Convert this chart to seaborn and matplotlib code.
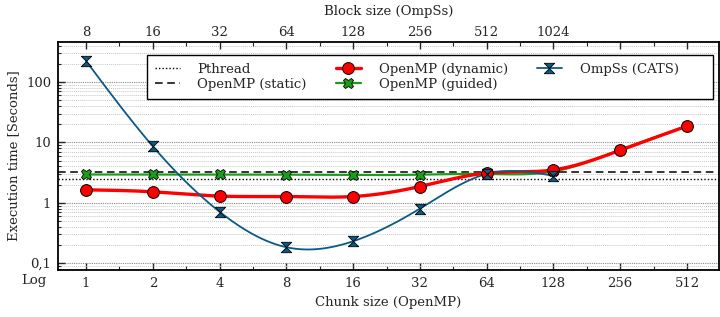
import numpy as np
import matplotlib
matplotlib.use("Agg")
import matplotlib.pyplot as plt
from matplotlib.path import Path
from matplotlib.lines import Line2D
from matplotlib.patches import Rectangle
from matplotlib.ticker import FixedLocator, NullFormatter
import seaborn as sns

# data
chunk_sizes = ["1", "2", "4", "8", "16", "32", "64", "128", "256", "512"]
block_sizes = ["8", "16", "32", "64", "128", "256", "512", "1024"]
pthread_time = 2.5
static_time = 3.22
dynamic_time = [1.64, 1.52, 1.29, 1.27, 1.27, 1.86, 3.1, 3.5, 7.4, 18.6]
guided_time = [2.94, 2.94, 2.94, 2.92, 2.88, 2.92, 3.0, 3.3, 7.5, 18.5]
ompss_time = [222, 8.6, 0.71, 0.184, 0.231, 0.80, 3.0, 2.8]


def smooth(y):
    # natural cubic spline through log10(y), like gnuplot "smooth csplines"
    x = np.arange(len(y), dtype=float)
    ly = np.log10(y)
    n = len(x)
    h = np.diff(x)
    A = np.zeros((n, n))
    b = np.zeros(n)
    A[0, 0] = A[-1, -1] = 1
    for i in range(1, n - 1):
        A[i, i - 1] = h[i - 1]
        A[i, i] = 2 * (h[i - 1] + h[i])
        A[i, i + 1] = h[i]
        b[i] = 6 * ((ly[i + 1] - ly[i]) / h[i] - (ly[i] - ly[i - 1]) / h[i - 1])
    M = np.linalg.solve(A, b)
    xs = np.linspace(x[0], x[-1], 400)
    idx = np.clip(np.searchsorted(x, xs) - 1, 0, n - 2)
    x0, x1 = x[idx], x[idx + 1]
    hh = x1 - x0
    s = (M[idx] * (x1 - xs) ** 3 / (6 * hh) + M[idx + 1] * (xs - x0) ** 3 / (6 * hh)
         + (ly[idx] - M[idx] * hh ** 2 / 6) * (x1 - xs) / hh
         + (ly[idx + 1] - M[idx + 1] * hh ** 2 / 6) * (xs - x0) / hh)
    return xs, 10 ** s


hourglass = Path([(-1, 1), (1, 1), (-1, -1), (1, -1), (-1, 1)],
                 [Path.MOVETO, Path.LINETO, Path.LINETO, Path.LINETO, Path.CLOSEPOLY])

sns.set_theme(style="ticks")
plt.rcParams['font.family'] = ['DejaVu Serif']
fs = 9.5

red = "#ff0000"
green = "#1a9e1a"
blue = "#0b5a86"

fig = plt.figure(figsize=(7.2, 3.17), dpi=100)
ax = fig.add_axes([0.0806, 0.148, 0.918, 0.7195])
ax.set_yscale("log")

ax.axhline(pthread_time, color="black", ls=(0, (1, 1.5)), lw=1.0, zorder=2)
ax.axhline(static_time, color="black", ls=(0, (5, 3)), lw=1.1, zorder=2)

xs, ys = smooth(guided_time)
sns.lineplot(x=xs, y=ys, ax=ax, color=green, lw=1.6, estimator=None, sort=False, zorder=3)
xs, ys = smooth(dynamic_time)
sns.lineplot(x=xs, y=ys, ax=ax, color=red, lw=2.4, estimator=None, sort=False, zorder=4)
xs, ys = smooth(ompss_time)
sns.lineplot(x=xs, y=ys, ax=ax, color=blue, lw=1.3, estimator=None, sort=False, zorder=5)

ax.plot(range(len(guided_time)), guided_time, ls="none", marker="X", ms=7.5, mfc=green, mec="black", mew=0.6, zorder=6)
ax.plot(range(len(dynamic_time)), dynamic_time, ls="none", marker="o", ms=8.5, mfc=red, mec="black", mew=0.7, zorder=7)
ax.plot(range(len(ompss_time)), ompss_time, ls="none", marker=hourglass, ms=7.5, mfc=blue, mec="black", mew=0.6, zorder=8)

ax.set_xlim(-0.42, 9.48)
ax.set_ylim(0.077, 458)

ax.set_xticks(range(len(chunk_sizes)))
ax.set_xticklabels(chunk_sizes)
ax.xaxis.set_minor_locator(FixedLocator(np.arange(-0.5, 10, 0.5)))
ax.set_yticks([0.1, 1, 10, 100])
ax.set_yticklabels(["0,1", "1", "10", "100"])
ax.yaxis.set_minor_formatter(NullFormatter())
ax.tick_params(axis="both", which="major", direction="in", length=5, width=1, labelsize=fs, pad=5)
ax.tick_params(axis="both", which="minor", direction="in", length=3, width=0.8)
ax.tick_params(axis="y", which="minor", length=2)

ax.grid(axis="y", which="major", color="#888888", ls=(0, (1, 1)), lw=0.8)
ax.grid(axis="y", which="minor", color="#c8c8c8", ls=(0, (1, 1)), lw=0.7)
ax.grid(axis="x", visible=False)

for sp in ax.spines.values():
    sp.set_color("black")
    sp.set_linewidth(1.3)

ax.set_xlabel("Chunk size (OpenMP)", fontsize=fs, labelpad=4)
ax.set_ylabel("Execution time [Seconds]", fontsize=fs, labelpad=4)
ax.text(-0.018, -0.045, "Log", transform=ax.transAxes, ha="right", va="center", fontsize=fs)

top = ax.twiny()
top.set_xlim(ax.get_xlim())
top.set_xticks(range(len(chunk_sizes)))
top.set_xticklabels(block_sizes + [""] * (len(chunk_sizes) - len(block_sizes)))
top.xaxis.set_minor_locator(FixedLocator(np.arange(-0.5, 10, 0.5)))
top.tick_params(axis="x", which="major", direction="in", length=5, width=1, labelsize=fs, pad=2)
top.tick_params(axis="x", which="minor", direction="in", length=3, width=0.8)
top.set_xlabel("Block size (OmpSs)", fontsize=fs, labelpad=8)
for sp in top.spines.values():
    sp.set_visible(False)

# legend box drawn separately so it can be wider than the entries
box = Rectangle((0.135, 0.75), 0.856, 0.193, transform=ax.transAxes, facecolor="white",
                edgecolor="black", lw=1.0, zorder=9)
ax.add_patch(box)

handles = [
    Line2D([], [], color="black", ls=(0, (1, 1.5)), lw=1.0),
    Line2D([], [], color="black", ls=(0, (5, 3)), lw=1.1),
    Line2D([], [], color=red, lw=2.4, marker="o", ms=8.5, mfc=red, mec="black", mew=0.7),
    Line2D([], [], color=green, lw=1.6, marker="X", ms=7.5, mfc=green, mec="black", mew=0.6),
    Line2D([], [], color=blue, lw=1.3, marker=hourglass, ms=7.5, mfc=blue, mec="black", mew=0.6),
]
labels = ["Pthread", "OpenMP (static)", "OpenMP (dynamic)", "OpenMP (guided)", "OmpSs (CATS)"]
leg = ax.legend(handles, labels, ncol=3, loc="center left", bbox_to_anchor=(0.142, 0.8465),
                borderaxespad=0, fontsize=fs, frameon=False, handlelength=1.9,
                handletextpad=1.35, columnspacing=2.2, borderpad=0.2, labelspacing=0.15)
leg.set_zorder(10)

fig.savefig("out.png", dpi=100)
